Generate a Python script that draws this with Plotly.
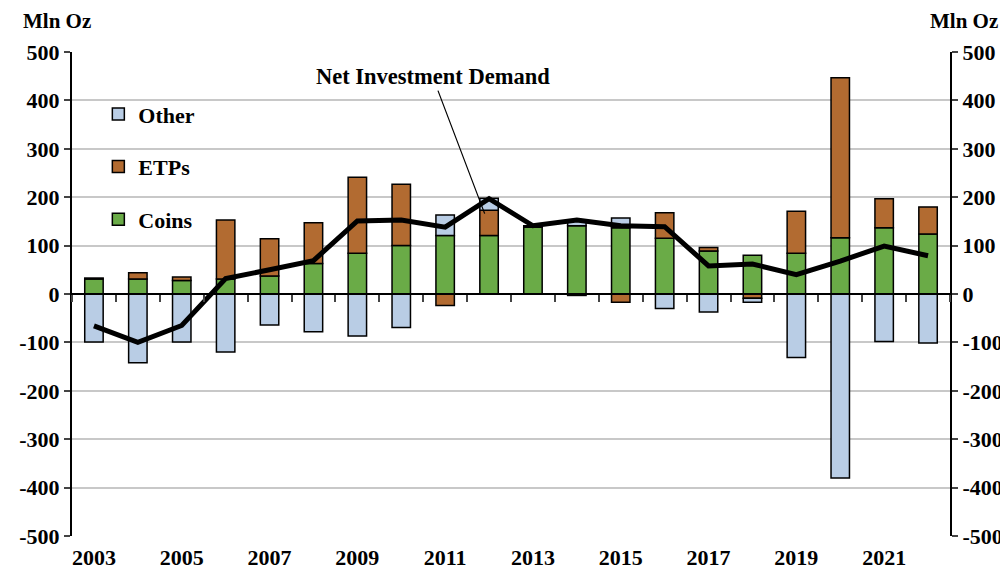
import plotly.graph_objects as go

GREEN = "#6AAB47"
BROWN = "#B26B31"
LIGHT_BLUE = "#B9CDE5"
GRID = "#C8C8C8"
FONT = "Liberation Serif"

years = list(range(2003, 2023))
coins = [31, 31, 28, 31, 37, 63, 84, 100, 121, 121, 138, 141, 137, 115, 89, 80, 84, 116, 137, 124]
etps = [2, 13, 7, 122, 77, 84, 157, 127, -24, 52, 1, -3, -17, 53, 7, -9, 87, 331, 60, 56]
other = [-99, -142, -99, -120, -64, -78, -87, -69, 42, 25, 2, 10, 20, -30, -37, -8, -131, -380, -98, -101]
net = [-66, -100, -65, 32, 50, 69, 151, 153, 138, 197, 141, 153, 141, 139, 58, 62, 40, 68, 99, 79]
year_ticks = list(range(2003, 2023, 2))
y_ticks = list(range(-500, 501, 100))
y_labels = [str(v) for v in y_ticks]  # plain hyphen minus like the original

fig = go.Figure()
for rank, (name, vals, col) in enumerate([("Coins", coins, GREEN), ("ETPs", etps, BROWN),
                                          ("Other", other, LIGHT_BLUE)]):
    fig.add_trace(go.Bar(x=years, y=vals, name=name, legendgroup=name, legendrank=3 - rank,
                         marker=dict(color=col, line=dict(color="black", width=1.5))))

fig.add_trace(go.Scatter(x=years, y=net, mode="lines", name="Net Investment Demand",
                         line=dict(color="black", width=5), showlegend=False))

# invisible traces so the right axis and the zero-line axis get drawn
fig.add_trace(go.Scatter(x=[years[0]], y=[0], yaxis="y2", mode="markers",
                         marker=dict(opacity=0), showlegend=False, hoverinfo="skip"))
fig.add_trace(go.Scatter(x=[years[0]], y=[0], xaxis="x2", mode="markers",
                         marker=dict(opacity=0), showlegend=False, hoverinfo="skip"))

tick_font = dict(size=22, family=FONT, weight="bold")
# page body has an 8px margin, so the figure is a bit smaller than the window
fig.update_layout(
    width=1000, height=561,
    barmode="relative", bargap=0.58,
    paper_bgcolor="white", plot_bgcolor="white",
    margin=dict(l=64, r=58, t=44, b=33),
    font=dict(family=FONT, color="black", size=18),
    xaxis=dict(range=[2002.5, 2022.5], tickvals=year_ticks, ticks="", showline=False,
               showgrid=False, zeroline=False, tickfont=tick_font, automargin=False,
               ticklabelstandoff=6),
    # axis line along zero with tick marks between years
    xaxis2=dict(overlaying="x", matches="x", anchor="free", position=0.5, showline=True,
                linecolor="black", linewidth=2, ticks="outside", ticklen=7, tickwidth=1.5,
                tick0=2002.5, dtick=1, showticklabels=False, showgrid=False, zeroline=False,
                automargin=False),
    yaxis=dict(range=[-500, 500], tickvals=y_ticks, ticktext=y_labels, showline=True,
               linecolor="black", linewidth=2, ticks="outside", ticklen=6, tickwidth=1.5,
               gridcolor=GRID, gridwidth=2, zeroline=False, tickfont=tick_font, automargin=False),
    yaxis2=dict(range=[-500, 500], tickvals=y_ticks, ticktext=y_labels, overlaying="y",
                side="right", showline=True, linecolor="black", linewidth=2, ticks="outside",
                ticklen=6, tickwidth=1.5, showgrid=False, zeroline=False, tickfont=tick_font,
                automargin=False),
    legend=dict(x=0.03, y=0.915, xanchor="left", yanchor="top", traceorder="grouped",
                tracegroupgap=21, bgcolor="rgba(0,0,0,0)",
                font=dict(size=22, family=FONT, weight="bold")),
    showlegend=True,
)

fig.add_annotation(x=2011.9, y=166, xref="x", yref="y", text="<b>Net Investment Demand</b>",
                   showarrow=True, arrowhead=0, arrowwidth=1.2, arrowcolor="black",
                   ax=-52, ay=-137, font=dict(size=22.5, family=FONT))
fig.add_annotation(x=-0.058, y=1.064, xref="paper", yref="paper", xanchor="left", yanchor="middle",
                   text="<b>Mln Oz</b>", showarrow=False, font=dict(size=21, family=FONT))
fig.add_annotation(x=1.057, y=1.064, xref="paper", yref="paper", xanchor="right", yanchor="middle",
                   text="<b>Mln Oz</b>", showarrow=False, font=dict(size=21, family=FONT))

fig.write_html("out.html")
